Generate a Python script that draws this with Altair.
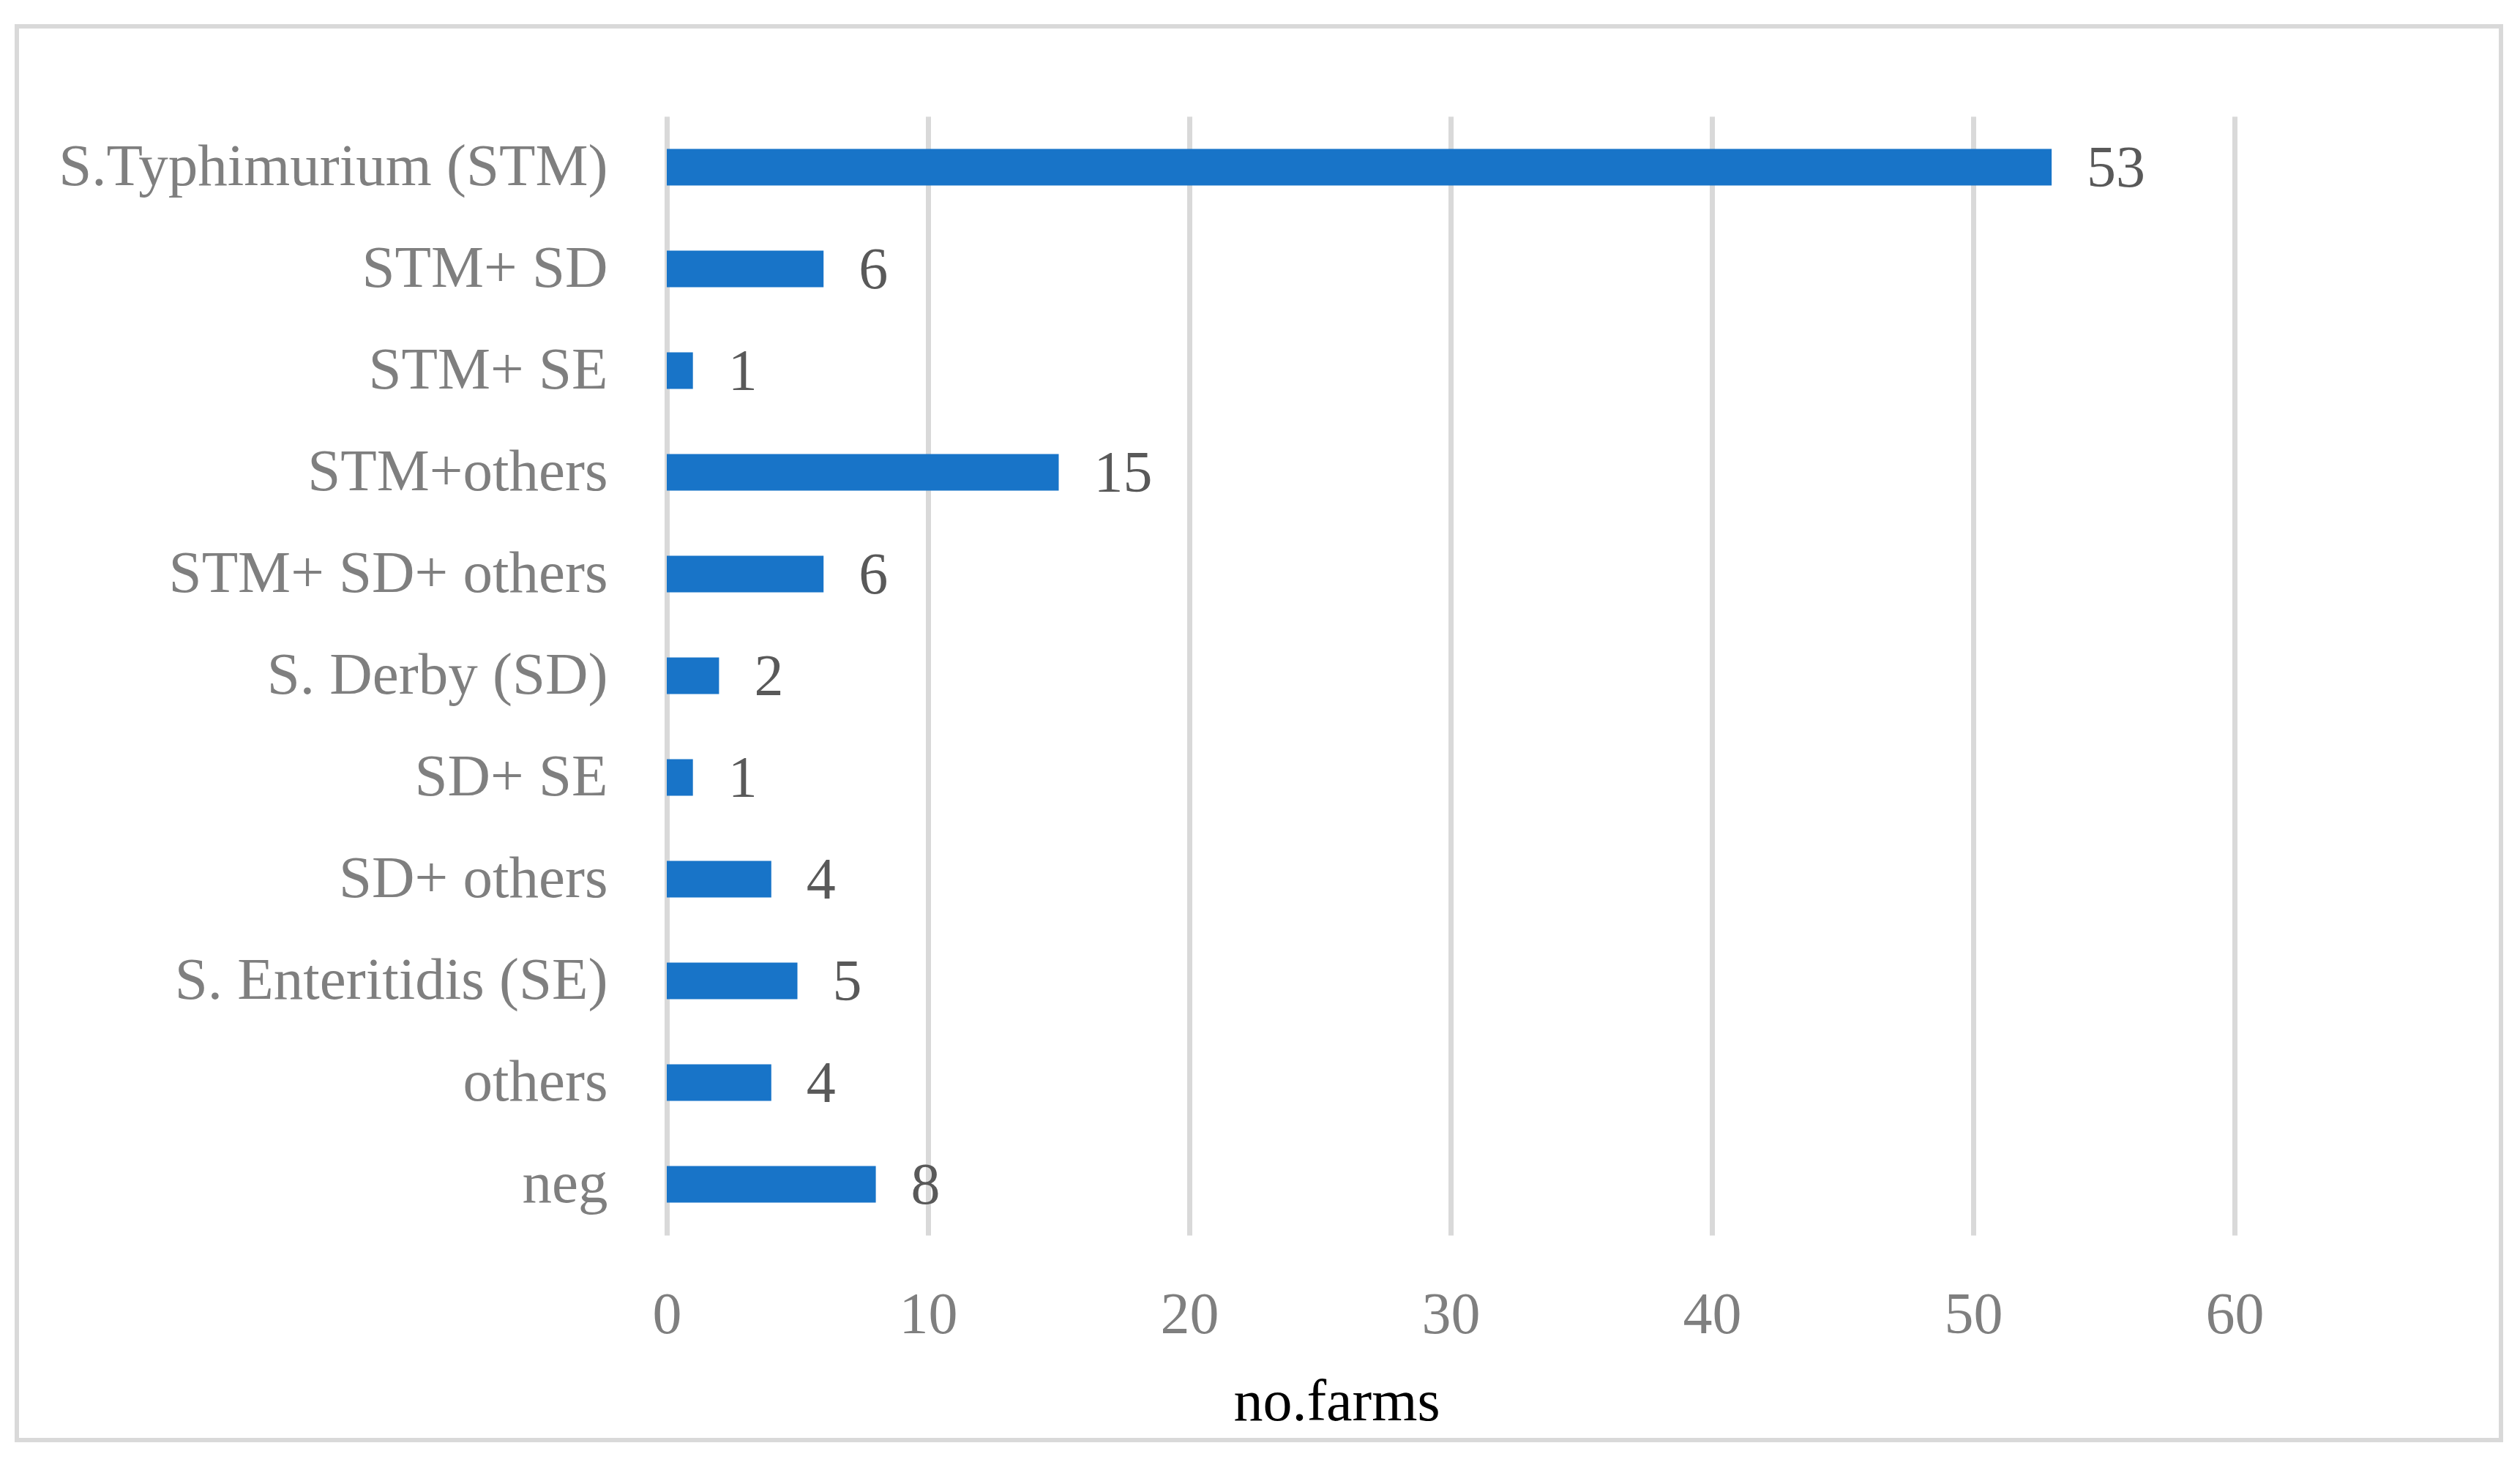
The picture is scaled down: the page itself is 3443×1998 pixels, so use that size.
import altair as alt
import pandas as pd

categories = ["S.Typhimurium (STM)", "STM+ SD", "STM+ SE", "STM+others",
              "STM+ SD+ others", "S. Derby (SD)", "SD+ SE", "SD+ others",
              "S. Enteritidis (SE)", "others", "neg"]
farms = [53, 6, 1, 15, 6, 2, 1, 4, 5, 4, 8]
x_ticks = [0, 10, 20, 30, 40, 50, 60]

df = pd.DataFrame({"cat": categories, "farms": farms})

FONT = "Liberation Serif"
W, H = 2142, 1529

base = alt.Chart(df)

y_enc = alt.Y("cat:N", sort=categories, title=None,
              scale=alt.Scale(paddingInner=0.64, paddingOuter=0.32),
              axis=alt.Axis(domain=False, ticks=False, grid=False, labelPadding=81,
                            labelFont=FONT, labelFontSize=81, labelColor="#7f7f7f",
                            labelLimit=2000))

bars = base.mark_bar(color="#1874c8").encode(
    x=alt.X("farms:Q", scale=alt.Scale(domain=[0, 60], nice=False),
            title="no.farms",
            axis=alt.Axis(values=x_ticks, domain=False, ticks=False,
                          grid=True, gridColor="#d9d9d9", gridWidth=7,
                          labelFont=FONT, labelFontSize=80, labelColor="#7f7f7f",
                          labelPadding=70, labelFlush=False,
                          titleFont=FONT, titleFontSize=80, titleFontWeight="normal",
                          titleColor="#000000", titleAnchor="start", titleAlign="center",
                          titleBaseline="alphabetic", titleX=915, titleY=252)),
    y=y_enc,
)

labels = base.mark_text(align="left", baseline="middle", dx=48, dy=2,
                        font=FONT, fontSize=80, color="#595959").encode(
    x=alt.X("farms:Q"),
    y=alt.Y("cat:N", sort=categories),
    text=alt.Text("farms:Q"),
)

frame = alt.Chart(pd.DataFrame({"f": [0]})).mark_rect(
    fill="transparent", stroke="#d9d9d9", strokeWidth=6
).encode(
    x=alt.value(-888), x2=alt.value(2506),
    y=alt.value(-123), y2=alt.value(1809),
)

chart = alt.layer(frame, bars, labels).properties(
    width=W, height=H,
    background="white",
    autosize=alt.AutoSizeParams(type="none"),
    padding={"left": 903, "top": 151, "right": 370, "bottom": 290},
).configure_view(
    stroke="transparent", strokeWidth=0
).configure_axis(domain=False)

chart.save("out.html", embed_options={"renderer": "svg", "actions": False})
